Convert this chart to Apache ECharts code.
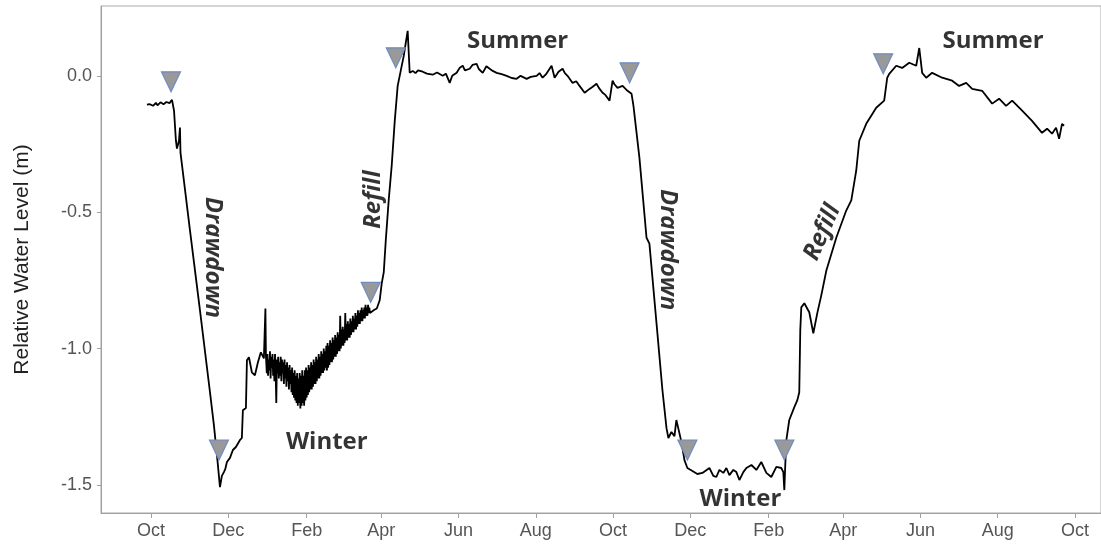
<!DOCTYPE html>
<html>
<head>
<meta charset="utf-8">
<title>Relative water level</title>
<script src="https://cdn.jsdelivr.net/npm/echarts@6/dist/echarts.min.js"></script>
<style>
  html, body { margin: 0; padding: 0; background: #fff; }
  #chart { width: 1101px; height: 546px; }
</style>
</head>
<body>
<div id="chart"></div>
<script>
// x is counted in days from 1 Oct of the first year of record
var tickDays = [0, 61, 123, 182, 243, 304, 365, 426, 488, 547, 608, 669, 730];
var tickLabels = ['Oct', 'Dec', 'Feb', 'Apr', 'Jun', 'Aug', 'Oct', 'Dec', 'Feb', 'Apr', 'Jun', 'Aug', 'Oct'];
var yTicks = [0, -0.5, -1.0, -1.5];

// [day, relative water level (m)]
var waterLevel = [
  // first summer end + drawdown
  [-3.2, -0.106], [-2.0, -0.100], [-0.8, -0.104], [0.4, -0.098], [1.6, -0.110], [2.8, -0.103],
  [3.9, -0.099], [5.1, -0.108], [6.3, -0.104], [7.5, -0.097], [8.7, -0.095], [9.9, -0.104],
  [11.0, -0.106], [12.2, -0.096], [13.4, -0.091], [14.6, -0.100], [15.8, -0.099], [16.6, -0.088],
  [18.2, -0.128], [19.7, -0.238], [20.5, -0.267], [22.1, -0.238], [22.9, -0.190], [23.3, -0.282],
  [30.8, -0.567], [38.7, -0.860], [46.6, -1.160], [49.7, -1.281], [52.1, -1.390], [54.5, -1.508],
  [56.0, -1.467], [57.6, -1.453], [58.8, -1.440], [60.0, -1.416], [61.2, -1.420], [62.4, -1.401],
  [63.5, -1.395], [64.7, -1.372], [67.1, -1.361], [70.2, -1.336], [71.8, -1.328], [72.6, -1.226],
  [75.0, -1.218], [75.8, -1.043], [77.4, -1.032], [79.7, -1.087], [82.1, -1.098], [84.5, -1.050],
  [86.8, -1.014], [89.2, -1.036], [90.0, -1.030], [90.4, -0.853], [90.8, -1.025],
  // first winter (noisy logger record)
  [91, -1.03], [91.5, -1.09], [92, -1.02], [92.5, -1.10], [93, -1.04], [93.5, -1.08], [94, -1.01],
  [94.5, -1.11], [95, -1.03], [95.5, -1.07], [96, -1.02], [96.5, -1.10], [97, -1.04], [97.5, -1.12],
  [98, -1.02], [98.5, -1.09], [99, -1.20], [99.5, -1.04], [100, -1.09], [100.5, -1.03], [101, -1.11],
  [101.5, -1.05], [102, -1.10], [102.5, -1.03], [103, -1.12], [103.5, -1.04], [104, -1.09], [104.5, -1.05],
  [105, -1.13], [105.5, -1.04], [106, -1.11], [106.5, -1.06], [107, -1.14], [107.5, -1.05], [108, -1.12],
  [108.5, -1.07], [109, -1.15], [109.5, -1.06], [110, -1.13], [110.5, -1.08], [111, -1.16], [111.5, -1.07],
  [112, -1.17], [112.5, -1.09], [113, -1.18], [113.5, -1.08], [114, -1.19], [114.5, -1.10], [115, -1.20],
  [115.5, -1.09], [116, -1.21], [116.5, -1.11], [117, -1.20], [117.5, -1.09], [118, -1.22], [118.5, -1.10],
  [119, -1.21], [119.5, -1.08], [120, -1.20], [120.5, -1.10], [121, -1.21], [121.5, -1.08], [122, -1.19],
  [122.5, -1.07], [123, -1.18], [123.5, -1.08], [124, -1.17], [124.5, -1.06], [125, -1.16], [125.5, -1.07],
  [126, -1.15], [126.5, -1.05], [127, -1.15], [127.5, -1.06], [128, -1.14], [128.5, -1.04], [129, -1.13],
  [129.5, -1.05], [130, -1.13], [130.5, -1.03], [131, -1.12], [131.5, -1.04], [132, -1.11], [132.5, -1.02],
  [133, -1.11], [133.5, -1.03], [134, -1.10], [134.5, -1.01], [135, -1.09], [135.5, -1.02], [136, -1.09],
  [136.5, -1.00], [137, -1.08], [137.5, -1.01], [138, -1.07], [138.5, -0.99], [139, -1.08], [139.5, -0.98],
  [140, -1.07], [140.5, -0.99], [141, -1.06], [141.5, -0.97], [142, -1.05], [142.5, -0.98], [143, -1.05],
  [143.5, -0.96], [144, -1.04], [144.5, -0.97], [145, -1.03], [145.5, -0.95], [146, -1.03], [146.5, -0.96],
  [147, -1.02], [147.5, -0.94], [148, -1.01], [148.5, -0.95], [149, -1.01], [149.5, -0.88], [150, -1.00],
  [150.5, -0.93], [151, -0.99], [151.5, -0.92], [152, -0.99], [152.5, -0.93], [153, -0.98], [153.5, -0.87],
  [154, -0.97], [154.5, -0.91], [155, -0.97], [155.5, -0.90], [156, -0.96], [156.5, -0.91], [157, -0.96],
  [157.5, -0.89], [158, -0.95], [158.5, -0.90], [159, -0.94], [159.5, -0.88], [160, -0.94], [160.5, -0.89],
  [161, -0.93], [161.5, -0.87], [162, -0.93], [162.5, -0.88], [163, -0.92], [163.5, -0.86], [164, -0.91],
  [164.5, -0.87], [165, -0.91], [165.5, -0.86], [166, -0.90], [166.5, -0.85], [167, -0.90], [167.5, -0.86],
  [168, -0.89], [168.5, -0.85], [169, -0.89], [169.5, -0.84], [170, -0.88], [170.5, -0.85], [171, -0.88],
  [171.5, -0.84], [172, -0.87], [172.5, -0.85], [173, -0.87],
  // refill
  [174.4, -0.867], [176.5, -0.858], [178.4, -0.853], [180.7, -0.823], [182.3, -0.761], [183.9, -0.721],
  [185.5, -0.604], [187.8, -0.457], [190.2, -0.329], [192.6, -0.165], [194.9, -0.037], [197.3, 0.018],
  [199.7, 0.073], [201.3, 0.121], [202.8, 0.165], [204.4, 0.011],
  // first summer
  [206.8, 0.018], [209, 0.010], [211, 0.020], [214.7, 0.015], [218, 0.008], [222.6, 0.004],
  [226, 0.012], [230.5, 0.000], [233, 0.008], [236.0, -0.026], [238, 0.000], [241.5, 0.011],
  [244, 0.030], [246.3, 0.037], [248, 0.020], [251.8, 0.026], [254, 0.040], [257.3, 0.044],
  [259, 0.025], [262.1, 0.011], [265, 0.035], [267.6, 0.026], [270, 0.018], [273.1, 0.011],
  [277, 0.006], [281.0, 0.000], [285, -0.008], [288.9, -0.011], [292, 0.000], [296.8, -0.011],
  [300, -0.004], [304.7, 0.000], [307, 0.010], [309.4, -0.007], [312, 0.005], [316.5, 0.037],
  [318.9, -0.007], [322, 0.015], [325.2, 0.026], [327, 0.010], [329.1, 0.000], [333.1, -0.026],
  [336, -0.020], [338.6, -0.037], [342.6, -0.062], [346.5, -0.048], [349, -0.040], [352.0, -0.029],
  [354, -0.045], [356.8, -0.062], [359, -0.070], [362.3, -0.091], [364.7, -0.018], [366, -0.030],
  [368.6, -0.044], [372.6, -0.037], [376.5, -0.055], [379.7, -0.066],
  // second drawdown
  [381.2, -0.110], [385.9, -0.300], [391.5, -0.593], [393.8, -0.615], [399.4, -0.907], [404.1, -1.153],
  [407.3, -1.292], [408.8, -1.328], [411.2, -1.306], [413.6, -1.321], [415.1, -1.262], [417.5, -1.310],
  [419.1, -1.343], [421.5, -1.409], [423.8, -1.438],
  // second winter
  [427.8, -1.449], [431.7, -1.460], [435.7, -1.456], [441.2, -1.438], [444.3, -1.467], [446.7, -1.471],
  [449.1, -1.445], [452.2, -1.456], [454.6, -1.438], [457.0, -1.464], [460.1, -1.445], [462.5, -1.453],
  [464.9, -1.482], [468.0, -1.453], [470.4, -1.438], [474.4, -1.427], [478.3, -1.445], [482.2, -1.416],
  [486.2, -1.456], [490.1, -1.471], [494.1, -1.434], [498.0, -1.438], [499.6, -1.453], [500.4, -1.519],
  // second refill
  [501.2, -1.420], [502.0, -1.336], [504.3, -1.262], [508.3, -1.215], [510.7, -1.189], [512.2, -1.160],
  [513.0, -0.933], [513.8, -0.849], [516.2, -0.834], [520.1, -0.867], [523.3, -0.944], [526.4, -0.871],
  [529.6, -0.805], [533.6, -0.714], [541.5, -0.593], [549.3, -0.494], [553.3, -0.457], [557.2, -0.348],
  [559.6, -0.238], [565.1, -0.176], [573.0, -0.117], [579.3, -0.091], [581.7, -0.007], [583.3, 0.007],
  // second summer
  [588.8, 0.037], [593.5, 0.029], [599.1, 0.048], [604.6, 0.037], [607.0, 0.102], [609.3, 0.011],
  [612.5, -0.007], [617.2, 0.011], [625.1, -0.007], [633.0, -0.018], [638.5, -0.037], [644.1, -0.026],
  [648.8, -0.048], [656.7, -0.055], [664.6, -0.102], [670.1, -0.084], [675.6, -0.110], [680.4, -0.091],
  [688.3, -0.128], [696.1, -0.165], [704.0, -0.209], [708.0, -0.194], [711.9, -0.212], [715.1, -0.190],
  [717.5, -0.231], [719.8, -0.176], [721.4, -0.183]
];

// season change markers
var markerDays = [15.8, 53.7, 173.6, 193.4, 378.1, 423.8, 500.4, 578.5];
var markerValues = [-0.022, -1.372, -0.794, 0.066, 0.011, -1.372, -1.372, 0.044];

// phase labels
var noteTexts = ['Summer', 'Summer', 'Winter', 'Winter', 'Drawdown', 'Refill', 'Drawdown', 'Refill'];
var noteDays = [289.7, 665.3, 138.9, 465.7, 48.9, 175.2, 408.1, 530.4];
var noteValues = [0.128, 0.128, -1.343, -1.551, -0.666, -0.454, -0.637, -0.574];

(function () {
    'use strict';

    var chart = echarts.init(document.getElementById('chart'));

    var axisFont = '"Liberation Sans", Arial, sans-serif';
    var noteFont = '"Open Sans", sans-serif';

    // rotation of each phase label (second "Refill" is slanted along the curve)
    var noteRotate = [0, 0, 0, 0, -90, 90, -90, 66];

    var markers = markerDays.map(function (d, i) { return [d, markerValues[i]]; });

    var notes = noteTexts.map(function (t, i) {
        var italic = (t === 'Drawdown' || t === 'Refill');
        return {
            name: t,
            value: [noteDays[i], noteValues[i]],
            label: { rotate: noteRotate[i], fontStyle: italic ? 'italic' : 'normal' }
        };
    });

    chart.setOption({
        animation: false,
        backgroundColor: '#fff',
        grid: {
            left: 101, top: 6, width: 1001, height: 507,
            show: true, borderColor: '#a8a8a8', borderWidth: 1
        },
        xAxis: {
            type: 'value',
            min: -39.5,
            max: 750.6,
            splitLine: { show: false },
            axisLine: { onZero: false, lineStyle: { color: '#a0a0a0', width: 1 } },
            axisTick: { customValues: tickDays, length: 5, lineStyle: { color: '#a0a0a0' } },
            axisLabel: {
                customValues: tickDays,
                margin: 9,
                fontSize: 18,
                fontFamily: axisFont,
                color: '#555',
                formatter: function (v) {
                    var k = tickDays.indexOf(v);
                    return k >= 0 ? tickLabels[k] : '';
                }
            }
        },
        yAxis: {
            type: 'value',
            min: -1.603,
            max: 0.256,
            name: 'Relative Water Level (m)',
            nameLocation: 'middle',
            nameGap: 68,
            nameTextStyle: { fontSize: 21, fontFamily: axisFont, color: '#222' },
            splitLine: { show: false },
            axisLine: { show: true, onZero: false, lineStyle: { color: '#a0a0a0', width: 1 } },
            axisTick: { show: true, customValues: yTicks, length: 4, lineStyle: { color: '#a0a0a0' } },
            axisLabel: {
                customValues: yTicks,
                margin: 9,
                fontSize: 18,
                fontFamily: axisFont,
                color: '#555',
                formatter: function (v) { return v.toFixed(1); }
            }
        },
        series: [
            {
                name: 'level',
                type: 'line',
                data: waterLevel,
                showSymbol: false,
                symbol: 'none',
                lineStyle: { color: '#000', width: 1.8 },
                z: 2
            },
            {
                name: 'markers',
                type: 'scatter',
                data: markers,
                symbol: 'triangle',
                symbolRotate: 180,
                symbolSize: [19, 20],
                itemStyle: { color: '#999', borderColor: '#6f8cc0', borderWidth: 1.2, opacity: 1 },
                z: 3
            },
            {
                name: 'notes',
                type: 'scatter',
                data: notes,
                symbolSize: 0,
                silent: true,
                label: {
                    show: true,
                    position: 'inside',
                    formatter: '{b}',
                    align: 'center',
                    verticalAlign: 'middle',
                    fontSize: 24,
                    fontWeight: 'bold',
                    fontFamily: noteFont,
                    color: '#000'
                },
                z: 4
            }
        ]
    });

    window.addEventListener('resize', function () {
        chart.resize();
    });
})();
</script>
</body>
</html>
